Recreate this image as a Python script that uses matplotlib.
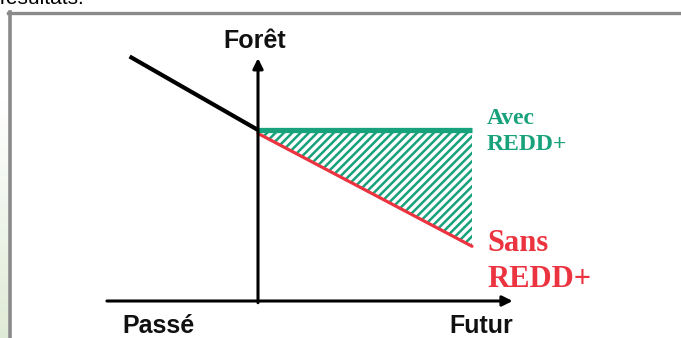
import numpy as np
import matplotlib
matplotlib.use("Agg")
import matplotlib.pyplot as plt
from matplotlib.lines import Line2D

# schematic values (time: past < 0 < future, forest cover in relative units)
past_time = [-0.6, 0.0]
past_forest = [1.43, 1.0]
future_time = [0.0, 1.0]
with_redd = [1.0, 1.0]
without_redd = [0.98, 0.32]

labels = {"y": "Forêt", "past": "Passé", "future": "Futur"}
with_label = "Avec\nREDD+"
without_label = "Sans\nREDD+"

GREEN = "#17a27b"
RED = "#ec3340"
GRAY = "#8a8a8a"

W, H = 681, 338
fig = plt.figure(figsize=(W / 100, H / 100), dpi=100)
fig.patch.set_facecolor("white")

# light green strip on the left edge (slide background)
strip = fig.add_axes([0, 0, 8 / W, 1])
grad = np.linspace(0, 1, 256)[:, None]
grad = np.clip((grad - 0.3) / 0.7, 0, 1)
top = np.array([1.0, 1.0, 1.0])
bot = np.array([0.875, 0.92, 0.84])
img = top + grad[..., None] * (bot - top)
strip.imshow(img, aspect="auto", extent=[0, 1, 0, 1], origin="upper")
strip.axis("off")

# cropped caption above the frame
fig.text(0.0, 1 - 4 / H, "résultats.", fontsize=15, family="Liberation Sans",
         color="black", va="baseline", ha="left")

# frame
fig.add_artist(Line2D([8 / W, 1], [1 - 12.5 / H] * 2, transform=fig.transFigure,
                      color=GRAY, lw=2.4))
fig.add_artist(Line2D([10 / W] * 2, [0, 1 - 11.5 / H], transform=fig.transFigure,
                      color=GRAY, lw=2.6))

ax = fig.add_axes([0, 0, 1, 1])
ax.set_xlim(-258 / 214, (W - 258) / 214)
ax.set_ylim(-(H - 301) / 171, 301 / 171)
ax.axis("off")
ax.patch.set_alpha(0)

# axes with arrows
arrow = dict(arrowstyle="-|>", lw=2.2, color="black", mutation_scale=15,
             shrinkA=0, shrinkB=0)
ax.annotate("", xy=(1.19, 0), xytext=(-0.706, 0), arrowprops=arrow)
ax.annotate("", xy=(0, 1.42), xytext=(0, -0.01), arrowprops=arrow)

# hatched gain area
plt.rcParams["hatch.linewidth"] = 1.8
ax.fill_between(future_time, without_redd, with_redd, facecolor="none",
                edgecolor=GREEN, hatch="////", linewidth=0)

ax.plot(past_time, past_forest, color="black", lw=3, solid_capstyle="butt")
ax.plot(future_time, without_redd, color=RED, lw=2.3, solid_capstyle="round")
ax.plot(future_time, with_redd, color=GREEN, lw=3.8, solid_capstyle="butt")

sans = dict(family="Liberation Sans", fontweight="bold", color="#111111", fontsize=18)
ax.text(-0.014, 1.52, labels["y"], ha="center", va="center", **sans)
ax.text(-0.467, -0.145, labels["past"], ha="center", va="center", **sans)
ax.text(1.042, -0.145, labels["future"], ha="center", va="center", **sans)

ax.text(1.07, 1.13, with_label, ha="left", va="top", color=GREEN,
        family="Liberation Serif", fontweight="bold", fontsize=17, linespacing=1.3)
ax.text(1.074, 0.42, without_label, ha="left", va="top", color=RED,
        family="Liberation Serif", fontweight="bold", fontsize=22, linespacing=1.3)

fig.savefig("out.png", dpi=100)
